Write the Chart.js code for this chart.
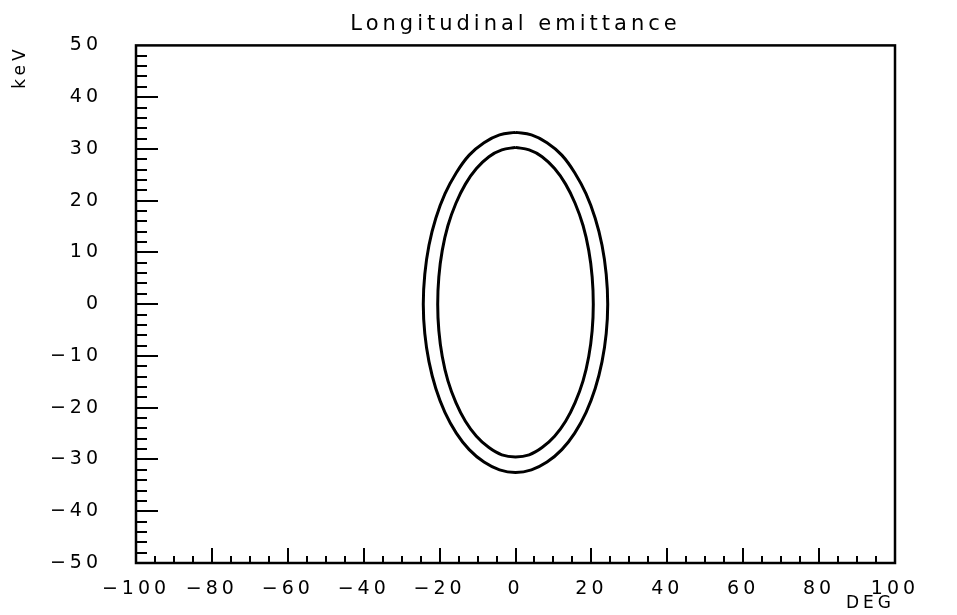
<!DOCTYPE html>
<html lang="en">
<head>
    <meta charset="UTF-8">
    <title>Longitudinal emittance</title>
    <style>
        html, body {
            margin: 0;
            padding: 0;
            background: #ffffff;
        }

        .chart-container {
            position: relative;
            width: 957px;
            height: 615px;
        }
    </style>
</head>
<body>
    <div class="chart-container">
        <canvas id="emittance-chart" width="957" height="615"></canvas>
    </div>

    <script src="https://cdn.jsdelivr.net/npm/chart.js@4"></script>
    <script>
        // Contours (DEG, keV), going round clockwise from the top
        const outerDeg = [0, 4.2, 8.3, 12.2, 15.6, 18.6, 21.0, 22.8, 23.9, 24.3, 23.9, 22.8, 21.0, 18.6, 15.6, 12.2, 8.3, 4.2, 0,
                          -4.2, -8.3, -12.2, -15.6, -18.6, -21.0, -22.8, -23.9, -24.3, -23.9, -22.8, -21.0, -18.6, -15.6, -12.2, -8.3, -4.2, 0];
        const outerKeV = [33.2, 32.7, 31.2, 28.8, 25.4, 21.3, 16.6, 11.4, 5.8, 0, -5.7, -11.1, -16.3, -20.9, -24.9, -28.1, -30.5, -32.0, -32.5,
                          -32.0, -30.5, -28.1, -24.9, -20.9, -16.3, -11.1, -5.7, 0, 5.8, 11.4, 16.6, 21.3, 25.4, 28.8, 31.2, 32.7, 33.2];
        const innerDeg = [0, 3.6, 7.0, 10.3, 13.2, 15.7, 17.8, 19.3, 20.2, 20.5, 20.2, 19.3, 17.8, 15.7, 13.2, 10.3, 7.0, 3.6, 0,
                          -3.6, -7.0, -10.3, -13.2, -15.7, -17.8, -19.3, -20.2, -20.5, -20.2, -19.3, -17.8, -15.7, -13.2, -10.3, -7.0, -3.6, 0];
        const innerKeV = [30.3, 29.8, 28.5, 26.2, 23.2, 19.5, 15.2, 10.4, 5.3, 0, -5.1, -10.1, -14.8, -19.0, -22.6, -25.5, -27.7, -29.1, -29.5,
                          -29.1, -27.7, -25.5, -22.6, -19.0, -14.8, -10.1, -5.1, 0, 5.3, 10.4, 15.2, 19.5, 23.2, 26.2, 28.5, 29.8, 30.3];

        const xRange = [-100, 100];
        const yRange = [-50, 50];
        const xMajor = 20, xMinor = 5;
        const yMajor = 10, yMinor = 2;

        const FONT = 'DejaVu Sans';

        function toPoints(xs, ys) {
            return xs.map((x, i) => ({ x: x, y: ys[i] }));
        }

        function tickLabel(v) {
            return v < 0 ? '\u2212' + Math.abs(v) : String(v);
        }

        // wide, spaced lettering like the old plotter font
        const spacing = {
            id: 'spacing',
            beforeLayout(chart) { chart.ctx.letterSpacing = '4px'; },
            beforeDraw(chart) { chart.ctx.letterSpacing = '4px'; }
        };

        // frame and inward tick marks
        const frameTicks = {
            id: 'frameTicks',
            afterDatasetsDraw(chart) {
                const ctx = chart.ctx;
                const area = chart.chartArea;
                const xs = chart.scales.x;
                const ys = chart.scales.y;
                ctx.save();
                ctx.strokeStyle = '#000';
                ctx.lineWidth = 2.5;
                ctx.strokeRect(area.left, area.top, area.right - area.left, area.bottom - area.top);
                ctx.beginPath();
                for (let v = xRange[0] + xMinor; v < xRange[1]; v += xMinor) {
                    const px = Math.round(xs.getPixelForValue(v));
                    const len = v % xMajor === 0 ? 15 : 7;
                    ctx.moveTo(px, area.bottom);
                    ctx.lineTo(px, area.bottom - len);
                }
                for (let v = yRange[0] + yMinor; v < yRange[1]; v += yMinor) {
                    const py = Math.round(ys.getPixelForValue(v));
                    const len = v % yMajor === 0 ? 22 : 11;
                    ctx.moveTo(area.left, py);
                    ctx.lineTo(area.left + len, py);
                }
                ctx.lineWidth = 2;
                ctx.stroke();
                ctx.restore();
            }
        };

        const lineStyle = {
            showLine: true,
            tension: 0.4,
            pointRadius: 0,
            borderColor: '#000000',
            backgroundColor: '#000000',
            borderWidth: 3
        };

        const emittanceChart = new Chart(document.getElementById('emittance-chart'), {
            type: 'scatter',
            data: {
                datasets: [
                    Object.assign({ label: 'outer', data: toPoints(outerDeg, outerKeV) }, lineStyle),
                    Object.assign({ label: 'inner', data: toPoints(innerDeg, innerKeV) }, lineStyle)
                ]
            },
            options: {
                responsive: false,
                animation: false,
                devicePixelRatio: 1,
                layout: { padding: { right: 62 } },
                scales: {
                    x: {
                        min: xRange[0],
                        max: xRange[1],
                        afterFit(scale) { scale.height = 52; },
                        grid: { display: false, drawTicks: false },
                        border: { display: false },
                        ticks: {
                            stepSize: xMajor,
                            padding: 15,
                            color: '#000',
                            maxRotation: 0,
                            autoSkip: false,
                            font: { family: FONT, size: 19 },
                            callback: tickLabel
                        },
                        title: {
                            display: true,
                            text: 'DEG',
                            align: 'end',
                            color: '#000',
                            font: { family: FONT, size: 17 },
                            padding: { top: 0, bottom: 1 }
                        }
                    },
                    y: {
                        min: yRange[0],
                        max: yRange[1],
                        afterFit(scale) { scale.width = 136; },
                        grid: { display: false, drawTicks: false },
                        border: { display: false },
                        ticks: {
                            stepSize: yMajor,
                            padding: 34,
                            color: '#000',
                            autoSkip: false,
                            font: { family: FONT, size: 19 },
                            callback: tickLabel
                        },
                        title: {
                            display: true,
                            text: 'keV',
                            align: 'end',
                            color: '#000',
                            font: { family: FONT, size: 17 },
                            padding: { top: 10, bottom: 0 }
                        }
                    }
                },
                plugins: {
                    legend: { display: false },
                    tooltip: { enabled: false },
                    title: {
                        display: true,
                        fullSize: false,
                        text: 'Longitudinal emittance',
                        color: '#000',
                        font: { family: FONT, size: 21, weight: 'normal' },
                        padding: { top: 2, bottom: 8 }
                    }
                }
            },
            plugins: [spacing, frameTicks]
        });
    </script>
</body>
</html>
